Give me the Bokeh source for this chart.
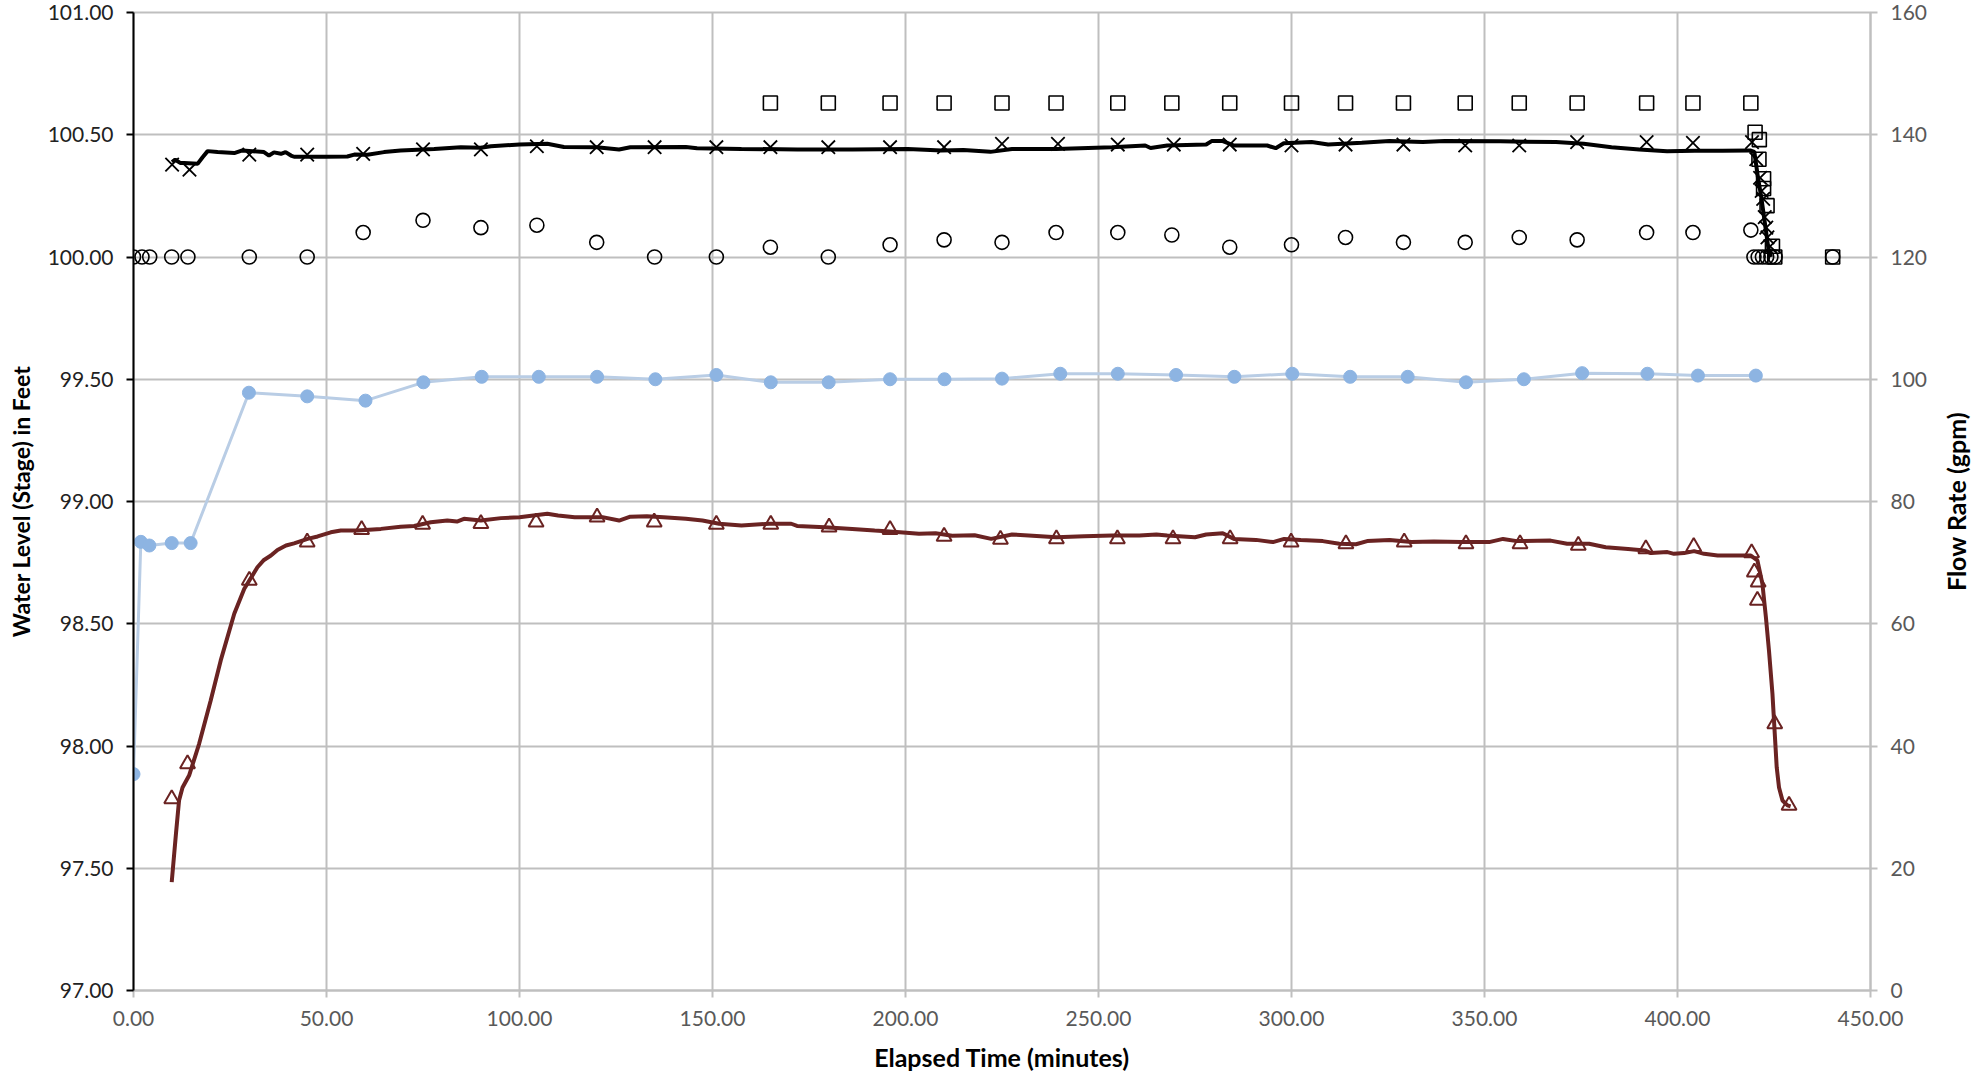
import math
from bokeh.plotting import figure
from bokeh.layouts import row
from bokeh.models import Range1d, LinearAxis, FixedTicker, NumeralTickFormatter
from bokeh.embed import file_html
from bokeh.resources import INLINE

# ---------------- data ----------------
# continuous logger record (black line), water level in feet
line_t = [10, 10.8, 12.2, 13.1, 16.6, 17.9, 19.2, 21.8, 26.1, 28.2, 33.8, 35.1, 36.4, 38.2, 39.4,
          40.8, 41.6, 49.6, 55.4, 57.2, 60.6, 64.9, 69.2, 77.9, 84.8, 89.9, 92.6, 100, 107.2,
          111.5, 120, 125.8, 128.7, 143.1, 146, 157.5, 172, 186.3, 200.6, 209.3, 215, 222,
          227.6, 239.1, 253.5, 262.1, 263.5, 267.8, 277.9, 279.3, 282.2, 285.1, 293.7, 295.9,
          298, 305.2, 309.5, 318.2, 325.4, 334, 339.7, 354.1, 368.5, 375.7, 382.9, 390.1,
          397.3, 404.5, 411.6, 418.8, 419.9, 420.8, 421.7, 422.9, 423.5, 424.2]
line_wl = [100.388, 100.398, 100.384, 100.384, 100.381, 100.408, 100.433, 100.429, 100.425,
           100.436, 100.429, 100.415, 100.428, 100.422, 100.429, 100.415, 100.41, 100.41,
           100.411, 100.419, 100.418, 100.429, 100.436, 100.442, 100.449, 100.447, 100.453,
           100.46, 100.463, 100.45, 100.449, 100.44, 100.449, 100.45, 100.445, 100.442, 100.44,
           100.44, 100.442, 100.436, 100.438, 100.43, 100.442, 100.442, 100.449, 100.456,
           100.446, 100.456, 100.46, 100.474, 100.474, 100.456, 100.456, 100.445, 100.465,
           100.47, 100.46, 100.467, 100.474, 100.47, 100.474, 100.473, 100.47, 100.463,
           100.449, 100.44, 100.433, 100.435, 100.435, 100.436, 100.43, 100.33, 100.245,
           100.109, 100.04, 100.0]

# manual readings (x markers), feet
x_t = [10, 14.5, 30, 45, 59.5, 75, 90, 104.5, 120, 135, 151, 165, 180, 196, 210, 225, 239.5,
       255, 269.5, 284, 300, 314, 329, 345, 359, 374, 392, 404, 419.3, 420.4, 421.4, 421.8,
       422.2, 422.6, 423, 423.3, 424]
x_wl = [100.378, 100.357, 100.419, 100.419, 100.422, 100.44, 100.44, 100.453, 100.449, 100.449,
        100.449, 100.449, 100.449, 100.449, 100.449, 100.463, 100.463, 100.46, 100.46, 100.46,
        100.456, 100.46, 100.46, 100.456, 100.456, 100.47, 100.47, 100.467, 100.47, 100.40,
        100.324, 100.27, 100.238, 100.163, 100.12, 100.08, 100.044]

# square markers, feet
sq_t = [165, 180, 196, 210, 225, 239, 255, 269, 284, 300, 314, 329, 345, 359, 374, 392, 404,
        419, 420.1, 421.2, 421.1, 422.3, 422.3, 423.2, 424.6, 425.2, 440.2]
sq_wl = [100.63, 100.63, 100.63, 100.63, 100.63, 100.63, 100.63, 100.63, 100.63, 100.63,
         100.63, 100.63, 100.63, 100.63, 100.63, 100.63, 100.63, 100.63, 100.51, 100.48,
         100.40, 100.32, 100.28, 100.21, 100.044, 100.0, 100.0]

# circle markers, feet
c_t = [0, 2.2, 4.2, 9.9, 14.1, 30, 45, 59.5, 75, 90, 104.5, 120, 135, 151, 165, 180, 196, 210,
       225, 239, 255, 269, 284, 300, 314, 329, 345, 359, 374, 392, 404, 419, 419.8, 420.9,
       422.0, 423.1, 424.2, 425.3, 440.2]
c_wl = [100.0, 100.0, 100.0, 100.0, 100.0, 100.0, 100.0, 100.10, 100.15, 100.12, 100.13,
        100.06, 100.0, 100.0, 100.04, 100.0, 100.05, 100.07, 100.06, 100.10, 100.10, 100.09,
        100.04, 100.05, 100.08, 100.06, 100.06, 100.08, 100.07, 100.10, 100.10, 100.11,
        100.0, 100.0, 100.0, 100.0, 100.0, 100.0, 100.0]

# flow rate (gpm, right axis)
q_t = [0, 1.9, 4.1, 9.9, 14.8, 29.9, 45, 60.1, 75.1, 90.2, 105, 120.1, 135.2, 151, 165.1,
       180.1, 196, 210.1, 225, 240.1, 255, 270.1, 285.2, 300.2, 315.2, 330.1, 345.2, 360.2,
       375.3, 392.2, 405.3, 420.3]
q_gpm = [35.4, 73.4, 72.8, 73.2, 73.2, 97.8, 97.2, 96.5, 99.5, 100.4, 100.4, 100.4, 100.0,
         100.7, 99.5, 99.5, 100.0, 100.0, 100.1, 100.9, 100.9, 100.7, 100.4, 100.9, 100.4,
         100.4, 99.5, 100.0, 101.0, 100.9, 100.6, 100.6]

# triangle markers, feet
tri_t = [9.9, 14, 30, 45, 59.1, 74.9, 90, 104.3, 120.1, 134.9, 151, 165.1, 180.2, 196, 210,
         224.6, 239.1, 254.9, 269.3, 284.1, 299.9, 314.1, 329.2, 345.2, 359.2, 374.3, 391.8,
         404.2, 419.2, 419.9, 420.9, 420.7, 425.2, 428.9]
tri_wl = [97.784, 97.927, 98.677, 98.834, 98.885, 98.906, 98.909, 98.915, 98.936, 98.915,
          98.906, 98.906, 98.895, 98.885, 98.857, 98.845, 98.847, 98.847, 98.847, 98.847,
          98.834, 98.827, 98.834, 98.827, 98.827, 98.82, 98.806, 98.815, 98.79, 98.711,
          98.67, 98.595, 98.09, 97.757]

# continuous record (dark red line), feet
bl_t = [9.9, 11, 11.8, 12.7, 14.4, 17, 20, 22.6, 26.1, 28.7, 32.1, 33.8, 35.6, 37.3, 39.5,
        41.6, 45.1, 47.7, 51.1, 53.7, 58, 64.1, 69.2, 72.7, 77, 81.3, 83.8, 85.6, 90, 95.2,
        100, 107.2, 110, 114.3, 121.5, 125.8, 128.7, 133, 137.3, 143.1, 147.4, 151.7, 157.5,
        164.7, 170.4, 171.9, 179.1, 186.2, 192, 197.7, 203.5, 207.8, 212.1, 217.9, 222.2,
        227.6, 231.9, 239.1, 246.3, 253.5, 260.6, 265, 267.8, 275, 277.9, 282.2, 285.1,
        290.8, 295.2, 298.1, 302.4, 308.1, 312.4, 316.7, 319.6, 325.4, 331.1, 336.9, 344.1,
        351.2, 354.8, 358.4, 367.1, 371.4, 377.1, 381.4, 387.2, 391.5, 393.1, 397.4, 399.1,
        401.7, 404.3, 406.9, 410.4, 414.7, 419, 420.7, 422, 422.9, 423.7, 424.6, 425.2,
        425.7, 426.3, 427.2, 428.5, 429.3]
bl_wl = [97.443, 97.641, 97.777, 97.83, 97.879, 98.009, 98.186, 98.35, 98.541, 98.643, 98.731,
         98.761, 98.779, 98.802, 98.82, 98.829, 98.847, 98.857, 98.874, 98.881, 98.881, 98.888,
         98.897, 98.90, 98.915, 98.922, 98.918, 98.929, 98.922, 98.932, 98.936, 98.95, 98.943,
         98.936, 98.936, 98.922, 98.938, 98.94, 98.936, 98.929, 98.922, 98.909, 98.902,
         98.909, 98.909, 98.9, 98.895, 98.888, 98.881, 98.875, 98.868, 98.870, 98.86, 98.862,
         98.847, 98.865, 98.861, 98.854, 98.858, 98.861, 98.861, 98.865, 98.861, 98.854,
         98.865, 98.87, 98.847, 98.843, 98.834, 98.847, 98.843, 98.838, 98.827, 98.825,
         98.838, 98.843, 98.834, 98.836, 98.834, 98.834, 98.847, 98.838, 98.84, 98.827,
         98.827, 98.813, 98.806, 98.80, 98.789, 98.793, 98.786, 98.789, 98.797, 98.786,
         98.779, 98.779, 98.779, 98.759, 98.663, 98.527, 98.39, 98.213, 98.05, 97.913, 97.83,
         97.777, 97.757, 97.753]

x_ticks = [0, 50, 100, 150, 200, 250, 300, 350, 400, 450]
y_ticks = [97.0, 97.5, 98.0, 98.5, 99.0, 99.5, 100.0, 100.5, 101.0]
q_ticks = [0, 20, 40, 60, 80, 100, 120, 140, 160]

x_title = "Elapsed Time (minutes)"
y_title = "Water Level (Stage) in Feet"
q_title = "Flow Rate (gpm)"

FONT = "Lato"
GRID = "#BFBFBF"
BROWN = "#6A2322"

p = figure(width=1930, height=1077, output_backend="svg", toolbar_location=None,
           x_range=Range1d(0, 450), y_range=Range1d(97, 101),
           min_border_left=133, min_border_right=60, min_border_top=12, min_border_bottom=87)
p.extra_y_ranges = {"flow": Range1d(0, 160)}
p.background_fill_color = "white"
p.border_fill_color = "white"
p.outline_line_color = GRID
p.outline_line_width = 2

# axes
xa = p.xaxis[0]
xa.ticker = FixedTicker(ticks=x_ticks)
xa.formatter = NumeralTickFormatter(format="0.00")
xa.axis_label = x_title
xa.axis_line_color = GRID
xa.axis_line_width = 2
xa.major_tick_line_color = GRID
xa.major_tick_line_width = 2
xa.major_tick_out = 7
xa.major_tick_in = 0
xa.minor_tick_line_color = None
xa.major_label_standoff = 13
xa.axis_label_standoff = 13

ya = p.yaxis[0]
ya.ticker = FixedTicker(ticks=y_ticks)
ya.formatter = NumeralTickFormatter(format="0.00")
ya.axis_label = y_title
ya.axis_line_color = "black"
ya.axis_line_width = 2
ya.major_tick_line_color = "black"
ya.major_tick_line_width = 2
ya.major_tick_out = 7
ya.major_tick_in = 0
ya.minor_tick_line_color = None
ya.major_label_standoff = 13
ya.axis_label_standoff = 10

ra = LinearAxis(y_range_name="flow", ticker=FixedTicker(ticks=q_ticks))
ra.axis_line_color = GRID
ra.axis_line_width = 2
ra.major_tick_line_color = GRID
ra.major_tick_line_width = 2
ra.major_tick_out = 7
ra.major_tick_in = 0
ra.minor_tick_line_color = None
ra.major_label_standoff = 13
p.add_layout(ra, "right")

for ax, col, fs in ((xa, "#595959", "25px"), (ya, "#222222", "23px"), (ra, "#595959", "25px")):
    ax.major_label_text_font = FONT
    ax.major_label_text_font_size = "21px"
    ax.major_label_text_color = col
    ax.axis_label_text_font = FONT
    ax.axis_label_text_font_size = fs
    ax.axis_label_text_font_style = "bold"
    ax.axis_label_text_color = "black"

p.xgrid.ticker = FixedTicker(ticks=x_ticks)
p.ygrid.ticker = FixedTicker(ticks=y_ticks)
for g in (p.xgrid[0], p.ygrid[0]):
    g.grid_line_color = GRID
    g.grid_line_width = 2

# series
p.line(q_t, q_gpm, y_range_name="flow", line_color="#B9CDE5", line_width=3)
p.scatter(q_t, q_gpm, y_range_name="flow", marker="circle", size=13,
          fill_color="#8DB4E2", line_color="#8DB4E2")

p.line(bl_t, bl_wl, line_color=BROWN, line_width=4)
p.scatter(tri_t, tri_wl, marker="triangle", size=15, fill_color=None,
          line_color=BROWN, line_width=2)

p.line(line_t, line_wl, line_color="black", line_width=4)
p.scatter(x_t, x_wl, marker="x", size=19, line_color="black", line_width=1.8)
p.scatter(c_t, c_wl, marker="circle", size=14, fill_color=None, line_color="black",
          line_width=1.6)
p.scatter(sq_t, sq_wl, marker="square", size=14, fill_color=None, line_color="black",
          line_width=1.6)

# narrow companion panel that carries the right-hand axis title (reads bottom-to-top)
p2 = figure(width=56, height=1077, output_backend="svg", toolbar_location=None,
            x_range=Range1d(0, 1), y_range=Range1d(0, 160),
            min_border_left=40, min_border_right=0, min_border_top=12, min_border_bottom=87)
p2.outline_line_color = None
p2.background_fill_color = "white"
p2.border_fill_color = "white"
p2.xaxis.visible = False
p2.xgrid.visible = False
p2.ygrid.visible = False
qa = p2.yaxis[0]
qa.axis_label = q_title
qa.axis_label_text_font = FONT
qa.axis_label_text_font_size = "25px"
qa.axis_label_text_font_style = "bold"
qa.axis_label_text_color = "black"
qa.axis_label_standoff = 0
qa.axis_line_color = None
qa.major_tick_line_color = None
qa.minor_tick_line_color = None
qa.major_tick_out = 0
qa.major_tick_in = 0
qa.major_label_standoff = 0
qa.major_label_text_font_size = "0px"
qa.major_label_text_color = None
qa.ticker = FixedTicker(ticks=[])
p2.line(x=[0, 1], y=[0, 0], line_alpha=0)

layout = row(p, p2, spacing=0)
open("out.html", "w").write(file_html(layout, INLINE))
